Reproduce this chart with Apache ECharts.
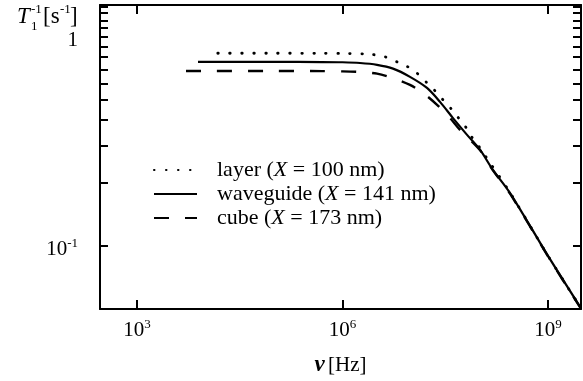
<!DOCTYPE html>
<html>
<head>
<meta charset="utf-8">
<script src="https://cdn.jsdelivr.net/npm/echarts@6/dist/echarts.min.js"></script>
<style>
html, body { margin: 0; padding: 0; background: #fff; }
#chart { width: 583px; height: 381px; }
</style>
</head>
<body>
<div id="chart"></div>
<script>
// values (frequency in Hz, relaxation rate in 1/s)
const layerFreq = [1.51e4, 1e5, 5e5, 1.2e6, 2.5e6, 4.17e6, 6.25e6, 9.04e6, 1.26e7, 1.71e7, 2.24e7, 2.93e7, 3.97e7, 5.19e7, 6.58e7, 8.04e7, 1.02e8, 1.33e8, 2.79e8, 1e9, 3.02e9];
const layerRate = [0.835, 0.835, 0.834, 0.832, 0.826, 0.802, 0.759, 0.718, 0.665, 0.603, 0.552, 0.500, 0.448, 0.401, 0.363, 0.325, 0.294, 0.258, 0.180, 0.0897, 0.0505];

const waveguideFreq = [7760, 1e5, 5e5, 1e6, 1.8e6, 3.19e6, 5.46e6, 9.66e6, 1.71e7, 2.65e7, 4.10e7, 6.58e7, 1.02e8, 1.57e8, 2.79e8, 1e9, 3.02e9];
const waveguideRate = [0.759, 0.759, 0.758, 0.756, 0.750, 0.735, 0.705, 0.644, 0.570, 0.489, 0.409, 0.340, 0.288, 0.231, 0.179, 0.0897, 0.0505];

const cubeFreq = [5190, 1e5, 5e5, 1e6, 1.8e6, 3.19e6, 5.46e6, 9.66e6, 1.50e7, 2.40e7, 3.71e7, 5.19e7, 1.02e8, 1.57e8, 2.79e8, 1e9, 3.02e9];
const cubeRate = [0.687, 0.687, 0.686, 0.684, 0.679, 0.667, 0.635, 0.589, 0.539, 0.473, 0.409, 0.359, 0.287, 0.230, 0.178, 0.0893, 0.0502];

const seriesNames = ['layer', 'waveguide', 'cube'];
const seriesX = ['100', '141', '173'];

const xTicks = [1e3, 1e6, 1e9];
const yTicks = [0.1, 0.2, 0.3, 0.4, 0.5, 0.6, 0.7, 0.8, 0.9, 1, 1.1, 1.2, 1.3, 1.4];
const yLabels = [0.1, 1];

const serif = '"Liberation Serif", "DejaVu Serif", serif';

function pairs(xs, ys) {
    return xs.map((x, i) => [x, ys[i]]);
}

function powLabel(v) {
    const e = Math.round(Math.log10(v));
    if (e === 0) return '{b|1}';
    return '{b|10}{s|' + e + '}';
}

const richPow = {
    b: { fontFamily: serif, fontSize: 21, color: '#000', lineHeight: 24 },
    s: { fontFamily: serif, fontSize: 13, color: '#000', verticalAlign: 'top', lineHeight: 24 }
};

const chart = echarts.init(document.getElementById('chart'));

const axisLine = { show: true, onZero: false, lineStyle: { color: '#000', width: 2 } };

const option = {
    backgroundColor: '#fff',
    animation: false,
    grid: { left: 100, right: 2, top: 5, bottom: 72, outerBoundsMode: 'none' },
    xAxis: [
        {
            type: 'log', min: 288, max: 3.03e9, position: 'bottom',
            axisLine: axisLine,
            axisTick: { show: true, inside: true, length: 9, customValues: xTicks, lineStyle: { color: '#000', width: 2 } },
            axisLabel: { customValues: xTicks, margin: 9, formatter: powLabel, rich: richPow },
            splitLine: { show: false },
            name: '{v|ν} {h|[Hz]}', nameLocation: 'middle', nameGap: 45,
            nameTextStyle: {
                rich: {
                    v: { fontFamily: serif, fontSize: 23, fontWeight: 'bold', fontStyle: 'italic', color: '#000' },
                    h: { fontFamily: serif, fontSize: 21, color: '#000' }
                }
            }
        },
        {
            type: 'log', min: 288, max: 3.03e9, position: 'top',
            axisLine: axisLine,
            axisTick: { show: true, inside: true, length: 9, customValues: xTicks, lineStyle: { color: '#000', width: 2 } },
            axisLabel: { show: false },
            splitLine: { show: false }
        }
    ],
    yAxis: [
        {
            type: 'log', min: 0.05, max: 1.42, position: 'left',
            axisLine: axisLine,
            axisTick: { show: true, inside: true, length: 8, customValues: yTicks, lineStyle: { color: '#000', width: 2 } },
            axisLabel: { customValues: yLabels, margin: 22, padding: [7, 0, 0, 0], formatter: powLabel, rich: richPow },
            splitLine: { show: false }
        },
        {
            type: 'log', min: 0.05, max: 1.42, position: 'right',
            axisLine: axisLine,
            axisTick: { show: true, inside: true, length: 8, customValues: yTicks, lineStyle: { color: '#000', width: 2 } },
            axisLabel: { show: false },
            splitLine: { show: false }
        }
    ],
    legend: {
        orient: 'vertical',
        left: 153, top: 159, padding: 0,
        itemWidth: 43, itemHeight: 14, itemGap: 2,
        itemStyle: { opacity: 0 },
        data: seriesNames,
        formatter: function (name) {
            const i = seriesNames.indexOf(name);
            return '{n|' + name + ' (}{i|X}{n| = ' + seriesX[i] + ' nm)}';
        },
        textStyle: {
            padding: [0, 0, 0, 15],
            rich: {
                n: { fontFamily: serif, fontSize: 22, color: '#000', lineHeight: 22 },
                i: { fontFamily: serif, fontSize: 22, fontStyle: 'italic', color: '#000', lineHeight: 22 }
            }
        }
    },
    graphic: [
        { type: 'text', left: 17, top: 5, style: { text: 'T', font: 'italic 23px ' + serif, fill: '#000' } },
        { type: 'text', left: 31, top: 20, style: { text: '1', font: '13px ' + serif, fill: '#000' } },
        { type: 'text', left: 31, top: 3, style: { text: '-1', font: '13px ' + serif, fill: '#000' } },
        { type: 'text', left: 43, top: 5, style: { text: '[s', font: '23px ' + serif, fill: '#000' } },
        { type: 'text', left: 60, top: 3, style: { text: '-1', font: '13px ' + serif, fill: '#000' } },
        { type: 'text', left: 70, top: 5, style: { text: ']', font: '23px ' + serif, fill: '#000' } }
    ],
    series: [
        {
            name: 'layer', type: 'line', showSymbol: false, symbol: 'none', smooth: 0.3,
            data: pairs(layerFreq, layerRate),
            lineStyle: { color: '#000', width: 2.8, type: [0.5, 11.5], cap: 'round' }
        },
        {
            name: 'waveguide', type: 'line', showSymbol: false, symbol: 'none', smooth: 0.3,
            data: pairs(waveguideFreq, waveguideRate),
            lineStyle: { color: '#000', width: 2.2 }
        },
        {
            name: 'cube', type: 'line', showSymbol: false, symbol: 'none', smooth: 0.3,
            data: pairs(cubeFreq, cubeRate),
            lineStyle: { color: '#000', width: 2.4, type: [15, 16] }
        }
    ]
};

chart.setOption(option);
</script>
</body>
</html>
